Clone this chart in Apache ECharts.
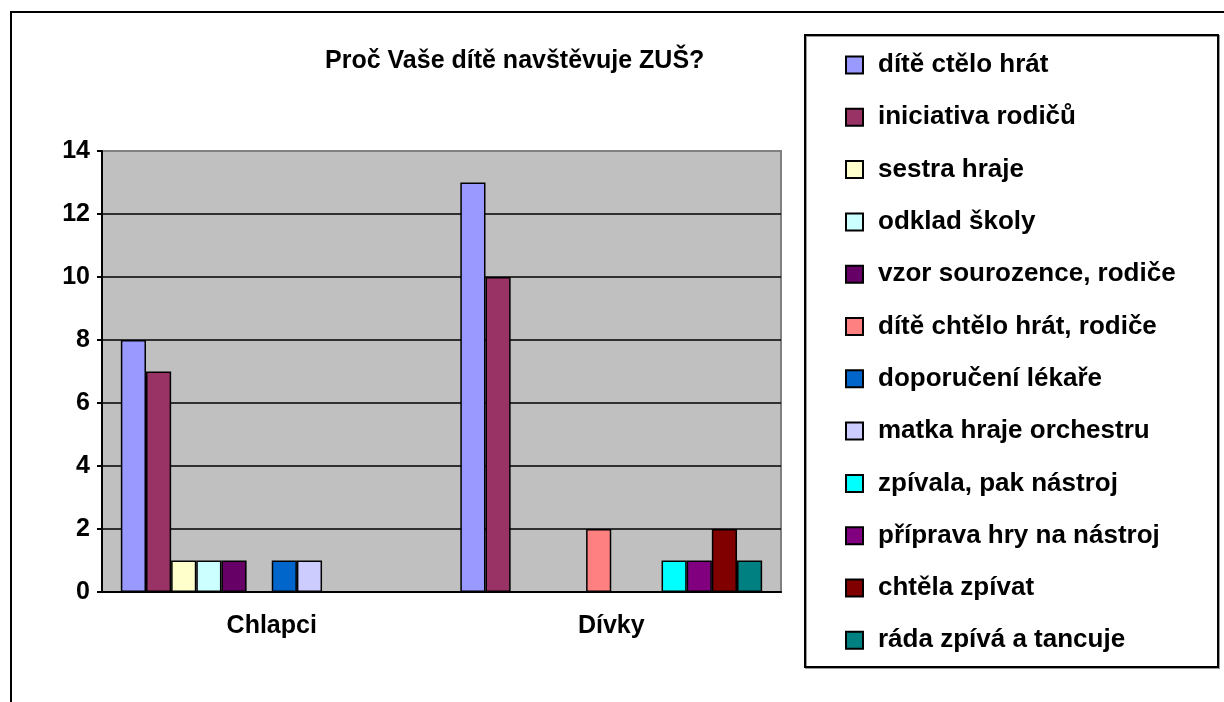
<!DOCTYPE html>
<html>
<head>
<meta charset="utf-8">
<script src="https://cdn.jsdelivr.net/npm/echarts@6/dist/echarts.min.js"></script>
<style>
  html, body { margin: 0; padding: 0; background: #fff; }
  #chart { width: 1224px; height: 702px; }
</style>
</head>
<body>
<div id="chart"></div>
<script>
// kategorie a odpovědi
var categories = ['Chlapci', 'Dívky']
var reasons = [
  'dítě ctělo hrát',
  'iniciativa rodičů',
  'sestra hraje',
  'odklad školy',
  'vzor sourozence, rodiče',
  'dítě chtělo hrát, rodiče',
  'doporučení lékaře',
  'matka hraje orchestru',
  'zpívala, pak nástroj',
  'příprava hry na nástroj',
  'chtěla zpívat',
  'ráda zpívá a tancuje'
]
var chlapci = [8, 7, 1, 1, 1, 0, 1, 1, 0, 0, 0, 0]
var divky = [13, 10, 0, 0, 0, 2, 0, 0, 1, 1, 2, 1]
var yTicks = [0, 2, 4, 6, 8, 10, 12, 14]
var colors = ['#9999FF', '#993366', '#FFFFCC', '#CCFFFF', '#660066', '#FF8080',
  '#0066CC', '#CCCCFF', '#00FFFF', '#800080', '#800000', '#008080']

var font = "'Liberation Sans', Arial, sans-serif"

var series = reasons.map(function (name, i) {
  return {
    name: name,
    type: 'bar',
    barGap: 0,
    barCategoryGap: '11.1%',
    itemStyle: {
      color: colors[i],
      borderColor: '#000',
      borderWidth: 1.5
    },
    data: [chlapci[i], divky[i]]
  }
})

var chart = echarts.init(document.getElementById('chart'))
chart.setOption({
  animation: false,
  backgroundColor: '#fff',
  title: {
    text: 'Proč Vaše dítě navštěvuje ZUŠ?',
    left: 325,
    top: 49,
    padding: 0,
    textStyle: { fontFamily: font, fontSize: 25, fontWeight: 'bold', color: '#000' }
  },
  legend: {
    orient: 'vertical',
    left: 845,
    top: 52,
    padding: 0,
    itemWidth: 17,
    itemHeight: 17,
    itemGap: 26.3,
    icon: 'rect',
    textStyle: {
      fontFamily: font, fontSize: 26, fontWeight: 'bold', color: '#000',
      lineHeight: 26, padding: [0, 0, 0, 10]
    },
    data: reasons
  },
  grid: {
    left: 102,
    top: 151,
    right: 443,
    bottom: 110,
    show: true,
    backgroundColor: '#C0C0C0',
    borderColor: '#808080',
    borderWidth: 2
  },
  xAxis: {
    type: 'category',
    data: categories,
    axisLine: { lineStyle: { color: '#000', width: 2 } },
    axisTick: { length: 5, lineStyle: { color: '#000', width: 2 } },
    axisLabel: { fontFamily: font, fontSize: 25, fontWeight: 'bold', color: '#000', margin: 22 }
  },
  yAxis: {
    type: 'value',
    min: yTicks[0],
    max: yTicks[yTicks.length - 1],
    interval: yTicks[1] - yTicks[0],
    axisLine: { show: true, lineStyle: { color: '#000', width: 2 } },
    axisTick: { show: true, length: 5, lineStyle: { color: '#000', width: 2 } },
    axisLabel: { fontFamily: font, fontSize: 25, fontWeight: 'bold', color: '#000', margin: 12 },
    splitLine: { show: true, showMaxLine: false, lineStyle: { color: '#000', width: 1.5 } }
  },
  graphic: [
    {
      type: 'polyline',
      shape: { points: [[11, 702], [11, 12], [1224, 12]] },
      style: { stroke: '#000', lineWidth: 2, fill: null }
    },
    {
      type: 'rect',
      z: -1,
      shape: { x: 805, y: 35, width: 413, height: 632 },
      style: { stroke: '#000', lineWidth: 2, fill: '#fff', shadowColor: 'rgba(0,0,0,0.4)', shadowOffsetX: 1, shadowOffsetY: 1 }
    }
  ],
  series: series
})
</script>
</body>
</html>
